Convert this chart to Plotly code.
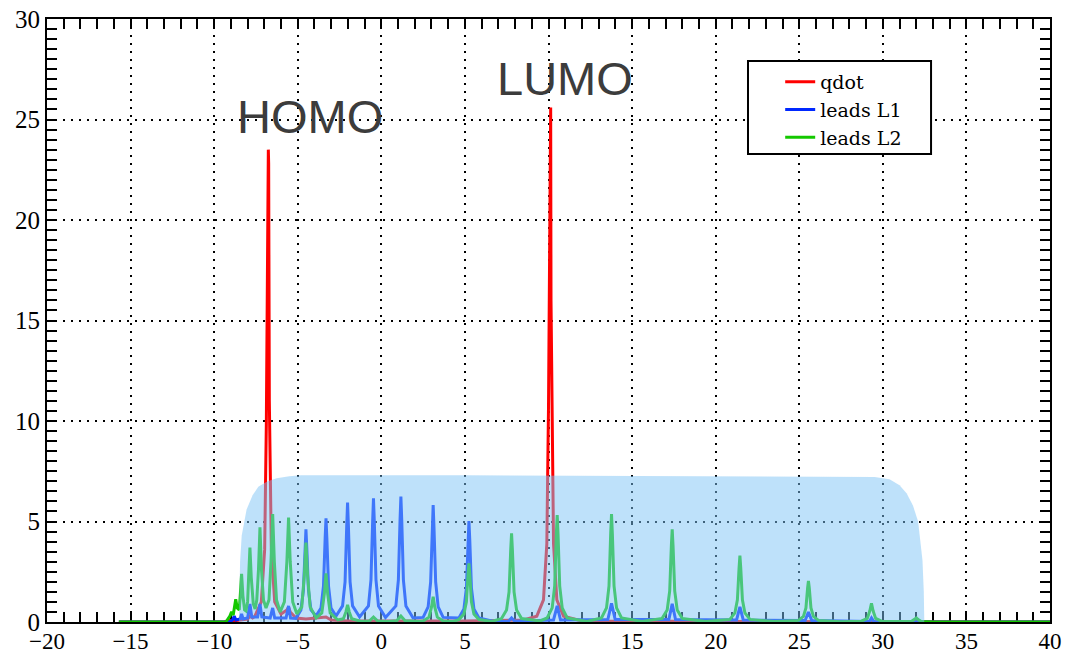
import plotly.graph_objects as go

# Spectral function A(E) of the quantum dot and of the two leads.
# Each list holds (energy, value) vertices, peak by peak.
qdot = [
    (-15.7, 0), (-9.4, 0), (-9.1, 0.08), (-8.9, 0.05), (-8.0, 0.15), (-7.86, 0.3), (-7.7, 0.2),
    # HOMO
    (-7.58, 0.27), (-7.18, 1.0), (-6.98, 3.6), (-6.88, 9.8), (-6.83, 17.5), (-6.79, 23.5),
    (-6.76, 23.5), (-6.74, 22.8), (-6.70, 11.0), (-6.58, 3.6), (-6.38, 1.0), (-6.0, 0.4),
    (-5.65, 0.6), (-5.55, 0.75), (-5.45, 0.5), (-5.1, 0.2), (-4.51, 0.15), (-3.31, 0.25),
    (-3.0, 0.1), (-2.0, 0.05), (5.0, 0.05), (8.5, 0.1),
    # LUMO
    (9.3, 0.29), (9.7, 1.1), (9.9, 3.9), (10.0, 10.7), (10.05, 19.0), (10.1, 25.6),
    (10.13, 25.6), (10.15, 16.0), (10.2, 10.7), (10.3, 3.9), (10.5, 1.1), (10.9, 0.29),
    (12.0, 0.05), (40.0, 0),
]

leads_l1 = [
    (-15.7, 0), (-9.1, 0),
    (-8.9, 0.1), (-8.8, 0.3), (-8.7, 0.1),
    (-8.45, 0.15), (-8.36, 0.4), (-8.27, 0.15),
    (-8.0, 0.2), (-7.86, 0.9), (-7.75, 0.25),
    (-7.4, 0.25), (-7.26, 0.9), (-7.15, 0.25),
    (-6.65, 0.2), (-6.5, 0.7), (-6.38, 0.2),
    (-5.7, 0.2), (-5.55, 0.8), (-5.43, 0.2),
    (-5.11, 0.18), (-4.81, 0.6), (-4.66, 1.6), (-4.56, 3.7), (-4.51, 4.61), (-4.46, 3.7),
    (-4.36, 1.6), (-4.21, 0.6), (-3.91, 0.3),
    (-3.61, 0.7), (-3.46, 1.8), (-3.36, 4.2), (-3.31, 5.16), (-3.26, 4.2), (-3.16, 1.8),
    (-3.01, 0.7), (-2.71, 0.3),
    (-2.32, 0.8), (-2.17, 2.0), (-2.07, 4.8), (-2.02, 5.94), (-1.97, 4.8), (-1.87, 2.0),
    (-1.72, 0.8), (-1.3, 0.25),
    (-0.77, 0.8), (-0.62, 2.1), (-0.52, 5.0), (-0.47, 6.15), (-0.42, 5.0), (-0.32, 2.1),
    (-0.17, 0.8), (0.25, 0.22),
    (0.87, 0.8), (1.02, 2.1), (1.12, 5.1), (1.17, 6.24), (1.22, 5.1), (1.32, 2.1),
    (1.47, 0.8), (1.9, 0.2),
    (2.5, 0.23), (2.8, 0.75), (2.95, 2.0), (3.05, 4.7), (3.1, 5.82), (3.15, 4.7), (3.25, 2.0),
    (3.4, 0.75), (3.7, 0.23),
    (4.64, 0.2), (4.94, 0.65), (5.09, 1.7), (5.19, 4.1), (5.24, 5.02), (5.29, 4.1), (5.39, 1.7),
    (5.54, 0.65), (5.84, 0.2),
    (6.8, 0.02),
    (7.6, 0.04), (7.79, 0.2), (7.98, 0.04),
    (10.3, 0.1), (10.52, 0.8), (10.72, 0.1),
    (13.55, 0.12), (13.77, 0.93), (13.99, 0.12),
    (17.2, 0.12), (17.4, 0.9), (17.6, 0.12),
    (21.25, 0.1), (21.45, 0.75), (21.65, 0.1),
    (25.35, 0.07), (25.55, 0.5), (25.75, 0.07),
    (29.2, 0.03), (29.32, 0.2), (29.45, 0.03),
    (33.0, 0), (40.0, 0),
]

leads_l2 = [
    (-15.7, 0), (-9.3, 0),
    (-9.06, 0.3), (-8.96, 0.5), (-8.86, 0.35),
    (-8.81, 0.7), (-8.71, 1.13), (-8.62, 0.7),
    (-8.5, 0.6), (-8.44, 1.3), (-8.36, 2.39), (-8.28, 1.3), (-8.18, 0.6),
    (-8.1, 0.55),
    (-8.0, 1.0), (-7.94, 2.2), (-7.86, 3.70), (-7.78, 2.2), (-7.66, 0.9),
    (-7.55, 0.65),
    (-7.45, 1.1), (-7.35, 2.6), (-7.26, 4.71), (-7.17, 2.6), (-7.05, 1.1),
    (-6.9, 0.7),
    (-6.72, 1.1), (-6.6, 3.0), (-6.5, 5.37), (-6.4, 3.0), (-6.27, 1.1),
    (-6.05, 0.5),
    (-5.8, 1.0), (-5.65, 3.0), (-5.55, 5.2), (-5.45, 3.0), (-5.3, 1.0),
    (-5.05, 0.4),
    (-4.76, 0.75), (-4.61, 2.3), (-4.51, 3.95), (-4.41, 2.3), (-4.26, 0.75),
    (-3.9, 0.2),
    (-3.56, 0.45), (-3.41, 1.4), (-3.31, 2.42), (-3.21, 1.4), (-3.06, 0.45),
    (-2.6, 0.1),
    (-2.27, 0.16), (-2.12, 0.5), (-2.02, 0.85), (-1.92, 0.5), (-1.77, 0.16),
    (-1.2, 0.03),
    (-0.72, 0.05), (-0.47, 0.25), (-0.22, 0.05),
    (0.4, 0.02),
    (0.92, 0.06), (1.17, 0.3), (1.42, 0.06),
    (2.3, 0.02),
    (2.5, 0.05), (2.85, 0.24), (3.0, 0.74), (3.1, 1.26), (3.2, 0.74), (3.35, 0.24), (3.7, 0.05),
    (4.3, 0.03),
    (4.64, 0.12), (4.94, 0.4), (5.09, 1.0), (5.19, 2.4), (5.24, 2.92), (5.29, 2.4), (5.39, 1.0),
    (5.54, 0.4), (5.84, 0.12),
    (6.6, 0.03),
    (7.19, 0.17), (7.49, 0.6), (7.64, 1.5), (7.74, 3.6), (7.79, 4.41), (7.84, 3.6), (7.94, 1.5),
    (8.09, 0.6), (8.39, 0.17),
    (9.5, 0.05),
    (9.92, 0.2), (10.22, 0.7), (10.37, 1.8), (10.47, 4.4), (10.52, 5.32), (10.57, 4.4),
    (10.67, 1.8), (10.82, 0.7), (11.12, 0.2),
    (12.3, 0.03),
    (13.17, 0.2), (13.47, 0.7), (13.62, 1.8), (13.72, 4.4), (13.77, 5.37), (13.82, 4.4),
    (13.92, 1.8), (14.07, 0.7), (14.37, 0.2),
    (15.6, 0.03),
    (16.8, 0.18), (17.1, 0.6), (17.25, 1.55), (17.35, 3.8), (17.4, 4.61), (17.45, 3.8),
    (17.55, 1.55), (17.7, 0.6), (18.0, 0.18),
    (19.4, 0.02),
    (20.85, 0.13), (21.15, 0.45), (21.3, 1.1), (21.4, 2.7), (21.45, 3.3), (21.5, 2.7),
    (21.6, 1.1), (21.75, 0.45), (22.05, 0.13),
    (23.5, 0.02),
    (24.95, 0.08), (25.25, 0.28), (25.4, 0.7), (25.5, 1.7), (25.55, 2.04), (25.6, 1.7),
    (25.7, 0.7), (25.85, 0.28), (26.15, 0.08),
    (27.5, 0.01),
    (28.72, 0.04), (29.07, 0.18), (29.22, 0.55), (29.32, 0.93), (29.42, 0.55), (29.57, 0.18), (29.92, 0.04),
    (31.7, 0.02), (31.91, 0.12), (32.01, 0.2), (32.11, 0.12), (32.3, 0.02),
    (33.0, 0), (40.0, 0),
]

# Density of states of the lead band (shaded region)
band = [
    (-8.52, 0), (-8.48, 1.5), (-8.45, 3.0), (-8.35, 4.3), (-8.06, 5.6), (-7.7, 6.3),
    (-7.36, 6.73), (-6.8, 7.0), (-6.26, 7.15), (-5.5, 7.25), (-4.8, 7.30), (5.0, 7.30),
    (15.0, 7.28), (25.0, 7.24), (29.5, 7.22), (30.4, 7.1), (31.0, 6.8), (31.42, 6.4),
    (31.8, 5.8), (32.11, 5.0), (32.3, 3.8), (32.37, 3.08), (32.45, 1.5), (32.48, 0),
]

series_names = ["qdot", "leads L1", "leads L2"]
series_data = [qdot, leads_l1, leads_l2]
series_colors = ["rgb(255,0,0)", "rgb(0,40,255)", "rgb(20,200,0)"]

fig = go.Figure()
for name, pts, color in zip(series_names, series_data, series_colors):
    fig.add_trace(go.Scatter(
        x=[p[0] for p in pts], y=[p[1] for p in pts], mode="lines", name=name,
        line=dict(color=color, width=3), hoverinfo="skip",
    ))

# translucent band drawn over the spectra
fig.add_trace(go.Scatter(
    x=[p[0] for p in band], y=[p[1] for p in band], mode="lines",
    fill="tozeroy", fillcolor="rgba(126,196,245,0.5)", line=dict(width=0),
    showlegend=False, hoverinfo="skip",
))

axis_common = dict(
    ticks="inside", ticklen=10, tickwidth=1.5, tickcolor="black",
    showline=True, linewidth=2, linecolor="black", mirror="allticks",
    showgrid=True, gridcolor="black", gridwidth=1.5, griddash="2px,6px",
    zeroline=False, layer="below traces", automargin=False,
)
fig.update_xaxes(range=[-20, 40], tick0=-20, dtick=5,
                 tickfont=dict(family="Liberation Serif", size=23, color="black"),
                 ticklabelstandoff=-3,
                 minor=dict(dtick=1, ticks="inside", ticklen=10, tickwidth=1.5,
                            tickcolor="black", showgrid=False),
                 **axis_common)
fig.update_yaxes(range=[0, 30], tick0=0, dtick=5,
                 tickfont=dict(family="Liberation Serif", size=25, color="black"),
                 minor=dict(dtick=0.5, ticks="inside", ticklen=10, tickwidth=1.5,
                            tickcolor="black", showgrid=False),
                 **axis_common)

label_font = dict(family="Liberation Sans", size=47, color="#3c3c3c")
fig.add_annotation(x=-4.27, y=25.15, text="HOMO", showarrow=False, font=label_font,
                   xanchor="center", yanchor="middle")
fig.add_annotation(x=10.98, y=27.02, text="LUMO", showarrow=False, font=label_font,
                   xanchor="center", yanchor="middle")

# legend frame
fig.add_shape(type="rect", xref="paper", yref="paper",
              x0=0.6989, x1=0.8814, y0=0.7761, y1=0.9303,
              line=dict(color="black", width=2), fillcolor="white", layer="above")

fig.update_layout(
    width=1070, height=653,
    margin=dict(l=47, r=20, t=19, b=31, autoexpand=False),
    paper_bgcolor="white", plot_bgcolor="white",
    showlegend=True,
    legend=dict(x=0.731, y=0.927, xanchor="left", yanchor="top",
                bgcolor="rgba(0,0,0,0)", borderwidth=0,
                font=dict(family="DejaVu Serif", size=19, color="black"),
                tracegroupgap=0),
)

fig.write_html("out.html")
